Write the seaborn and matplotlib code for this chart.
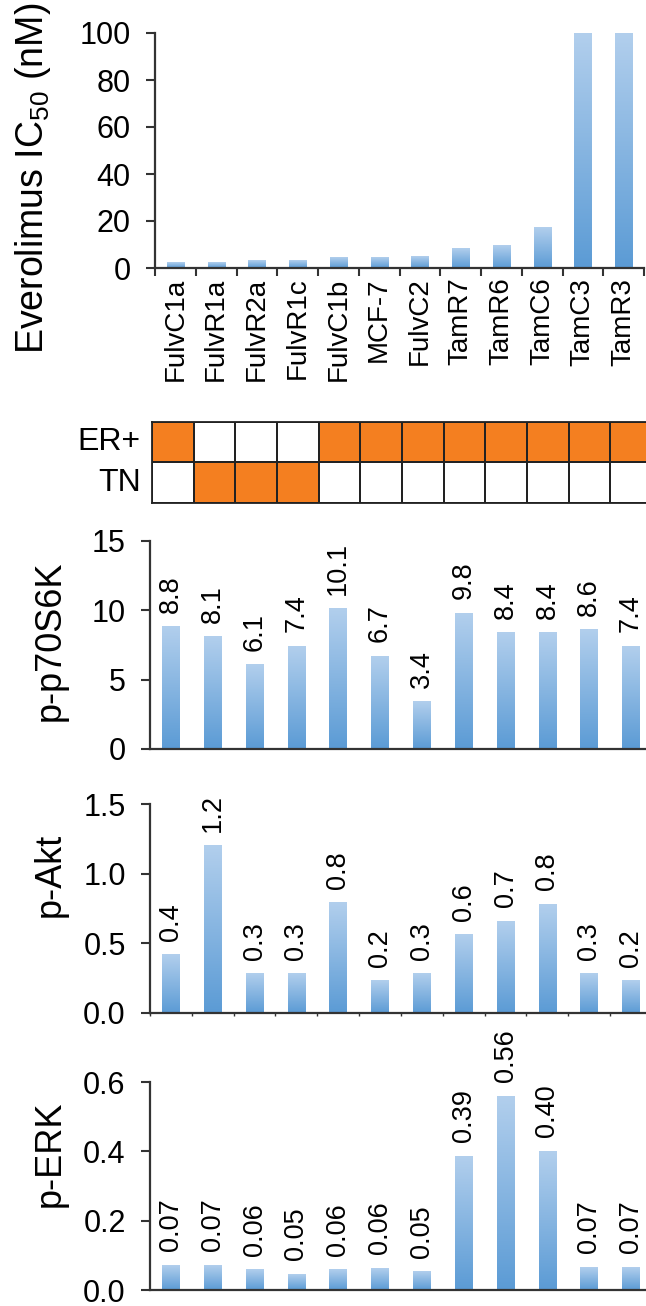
import numpy as np
import pandas as pd
import matplotlib
matplotlib.use("Agg")
import matplotlib.pyplot as plt
import seaborn as sns
from matplotlib.colors import ListedColormap, LinearSegmentedColormap
from matplotlib.ticker import FixedLocator, FormatStrFormatter

# ---------------- data ----------------
cell_lines = ["FulvC1a", "FulvR1a", "FulvR2a", "FulvR1c", "FulvC1b", "MCF-7",
              "FulvC2", "TamR7", "TamR6", "TamC6", "TamC3", "TamR3"]
ic50 = [2.3, 2.2, 3.1, 3.1, 4.4, 4.4, 4.8, 8.2, 9.5, 17.2, 100, 100]
er_pos = [1, 0, 0, 0, 1, 1, 1, 1, 1, 1, 1, 1]
tn = [0, 1, 1, 1, 0, 0, 0, 0, 0, 0, 0, 0]
subtype_rows = ["ER+", "TN"]
p70s6k = [8.8, 8.1, 6.1, 7.4, 10.1, 6.7, 3.4, 9.8, 8.4, 8.4, 8.6, 7.4]
akt = [0.42, 1.20, 0.28, 0.28, 0.79, 0.23, 0.28, 0.56, 0.66, 0.78, 0.28, 0.23]
erk = [0.072, 0.072, 0.058, 0.046, 0.058, 0.063, 0.052, 0.386, 0.559, 0.400, 0.066, 0.066]

# ---------------- style ----------------
sns.set_style("white")
plt.rcParams["font.family"] = ["Liberation Sans", "DejaVu Sans"]
plt.rcParams["mathtext.fontset"] = "custom"
plt.rcParams["mathtext.rm"] = "Liberation Sans"
plt.rcParams["mathtext.it"] = "Liberation Sans:italic"
for k in ("text.color", "axes.labelcolor", "xtick.labelcolor", "ytick.labelcolor"):
    plt.rcParams[k] = "black"

W, H = 646, 1306
fig = plt.figure(figsize=(W / 100, H / 100), dpi=100)

def axes_px(left, right, top, bottom):
    return fig.add_axes([left / W, 1 - bottom / H, (right - left) / W, (bottom - top) / H])

SPINE = "#333333"
grad_cmap = LinearSegmentedColormap.from_list("bluegrad", ["#5b9bd5", "#b2cfed"])
TICK_FS = 22
YLAB_FS = 26

def style_axes(ax):
    sns.despine(ax=ax)
    for s in ("left", "bottom"):
        ax.spines[s].set_color(SPINE)
        ax.spines[s].set_linewidth(1.6)
    ax.tick_params(axis="y", which="major", length=6.5, width=1.5, color=SPINE,
                   labelsize=TICK_FS, labelcolor="black", pad=11, left=True)
    ax.set_facecolor("white")

def gradient_bars(ax, ylim):
    grad = np.linspace(1, 0, 256).reshape(-1, 1)
    for p in list(ax.patches):
        x0, y0 = p.get_x(), p.get_y()
        w, h = p.get_width(), p.get_height()
        ax.imshow(grad, extent=[x0, x0 + w, y0, y0 + h], aspect="auto",
                  cmap=grad_cmap, origin="upper", zorder=2, interpolation="bilinear")
        p.set_visible(False)
    ax.set_aspect("auto")
    ax.set_xlim(-0.5, len(cell_lines) - 0.5)
    ax.set_ylim(*ylim)

def bar_panel(ax, vals, ylim, yticks, fmt, ylabel, label_y, label_fmt=None,
              minor_len=0):
    df = pd.DataFrame({"cell": cell_lines, "v": vals})
    sns.barplot(data=df, x="cell", y="v", ax=ax, color="#5b9bd5", width=0.42,
                saturation=1, errorbar=None)
    gradient_bars(ax, ylim)
    style_axes(ax)
    ax.set_yticks(yticks)
    ax.yaxis.set_major_formatter(FormatStrFormatter(fmt))
    ax.set_xticks(range(len(cell_lines)))
    ax.set_xticklabels([])
    ax.tick_params(axis="x", which="major", length=0)
    if minor_len:
        ax.xaxis.set_minor_locator(FixedLocator(np.arange(-0.5, len(cell_lines), 1)))
        ax.tick_params(axis="x", which="minor", length=minor_len, width=1.0,
                       color=SPINE, bottom=True)
    ax.set_xlabel("")
    ax.set_ylabel(ylabel, fontsize=YLAB_FS, color="black")
    ax.yaxis.set_label_coords(-0.163, label_y)
    if label_fmt:
        for i, v in enumerate(vals):
            ax.annotate(format(v, label_fmt), (i, v), xytext=(0, 10),
                        textcoords="offset points", rotation=90,
                        ha="center", va="bottom", fontsize=19.5, color="black",
                        annotation_clip=False)

# ---------------- top panel: IC50 ----------------
ax1 = axes_px(155, 644, 33, 268)
df1 = pd.DataFrame({"cell": cell_lines, "ic50": ic50})
sns.barplot(data=df1, x="cell", y="ic50", ax=ax1, color="#5b9bd5", width=0.42,
            saturation=1, errorbar=None)
gradient_bars(ax1, (0, 100))
style_axes(ax1)
ax1.set_yticks([0, 20, 40, 60, 80, 100])
ax1.set_xticks(range(len(cell_lines)))
ax1.set_xticklabels(cell_lines, rotation=90, fontsize=20, color="black")
ax1.tick_params(axis="x", which="major", length=0, pad=7)
ax1.xaxis.set_minor_locator(FixedLocator(np.arange(-0.5, len(cell_lines), 1)))
ax1.tick_params(axis="x", which="minor", length=6, width=1.5, color=SPINE, bottom=True)
ax1.set_xlabel("")
ax1.set_ylabel("Everolimus IC$_\\mathregular{50}$ (nM)", fontsize=27, color="black")
ax1.yaxis.set_label_coords(-0.209, 0.383)

# ---------------- subtype grid ----------------
axh = axes_px(152, 652, 422, 503)
grid = pd.DataFrame([er_pos, tn], index=subtype_rows, columns=cell_lines)
sns.heatmap(grid, ax=axh, cmap=ListedColormap(["white", "#f47f20"]), cbar=False,
            linewidths=1.3, linecolor="#222222", xticklabels=False,
            yticklabels=subtype_rows, vmin=0, vmax=1)
axh.tick_params(axis="y", length=0, labelsize=23, pad=8, labelrotation=0,
                labelcolor="black")
axh.set_xlabel("")
axh.set_ylabel("")
for s in axh.spines.values():
    s.set_visible(True)
    s.set_color("#222222")
    s.set_linewidth(1.3)

# ---------------- lower panels ----------------
ax3 = axes_px(150, 652, 541, 749)
bar_panel(ax3, p70s6k, (0, 15), [0, 5, 10, 15], "%d", "p-p70S6K", 0.52, ".1f")

ax4 = axes_px(150, 652, 804, 1013)
bar_panel(ax4, akt, (0, 1.5), [0, 0.5, 1.0, 1.5], "%.1f", "p-Akt", 0.66, ".1f",
          minor_len=2.5)

ax5 = axes_px(150, 652, 1082, 1290)
bar_panel(ax5, erk, (0, 0.6), [0, 0.2, 0.4, 0.6], "%.1f", "p-ERK", 0.654, ".2f")

fig.savefig("out.png", dpi=100, facecolor="white")
